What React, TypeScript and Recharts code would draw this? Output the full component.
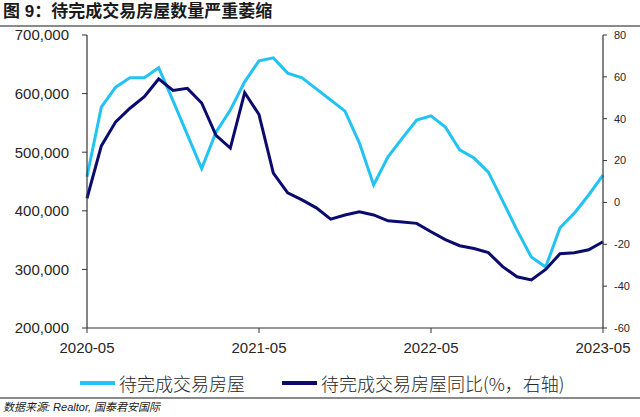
import React from 'react';
import { LineChart, Line, XAxis, YAxis } from 'recharts';

const months = [
  '2020-05', '2020-06', '2020-07', '2020-08', '2020-09', '2020-10', '2020-11', '2020-12',
  '2021-01', '2021-02', '2021-03', '2021-04', '2021-05', '2021-06', '2021-07', '2021-08',
  '2021-09', '2021-10', '2021-11', '2021-12', '2022-01', '2022-02', '2022-03', '2022-04',
  '2022-05', '2022-06', '2022-07', '2022-08', '2022-09', '2022-10', '2022-11', '2022-12',
  '2023-01', '2023-02', '2023-03', '2023-04', '2023-05',
];

// 待完成交易房屋 (left axis)
const pendingListings = [
  458000, 577000, 611000, 627000, 627000, 644000, 588000, 530000,
  472000, 534000, 572000, 620000, 656000, 661000, 635000, 627000,
  608000, 589000, 570000, 516000, 444000, 492000, 524000, 555000,
  562000, 543000, 504000, 490000, 466000, 417000, 367000, 321000,
  304000, 371000, 396000, 427000, 461000,
];

// 同比 % (right axis)
const pendingYoY = [
  2, 27, 38.5, 45, 50.5, 59, 53.5, 54.5,
  47.5, 32, 26, 52.5, 42, 14, 4.6, 1.2,
  -2.6, -8, -6, -4.5, -6, -8.8, -9.3, -10,
  -14, -17.8, -20.7, -22, -24, -30.7, -35.5, -37,
  -32, -24.5, -24, -22.6, -18.8,
];

const leftTicks = [200000, 300000, 400000, 500000, 600000, 700000];
const rightTicks = [-60, -40, -20, 0, 20, 40, 60, 80];
const xTicks = ['2020-05', '2021-05', '2022-05', '2023-05'];

const seriesNames = ['待完成交易房屋', '待完成交易房屋同比(%，右轴)'];
const seriesColors = ['#22C3F2', '#0B0B6E'];
const legendLefts = [80, 282];

const title = '图 9：待完成交易房屋数量严重萎缩';
const source = '数据来源: Realtor, 国泰君安国际';

const data = months.map((m, i) => ({
  month: m,
  listings: pendingListings[i],
  yoy: pendingYoY[i],
}));

const fmt = (v: number) => v.toLocaleString('en-US');

const axisColor = '#333333';
const latin = '"Liberation Sans", Arial, "Noto Sans CJK SC", sans-serif';

export default function App() {
  return (
    <div
      style={{
        position: 'absolute',
        left: 0,
        top: 0,
        width: 640,
        height: 417,
        background: '#ffffff',
        overflow: 'hidden',
        fontFamily: latin,
      }}
    >
      <div
        style={{
          position: 'absolute',
          left: 3,
          top: 1,
          fontSize: 17,
          fontWeight: 700,
          color: '#1a1a1a',
          whiteSpace: 'pre',
          fontFamily: '"Liberation Sans", "Noto Sans CJK SC", sans-serif',
          lineHeight: '22px',
        }}
      >
        {title}
      </div>
      <div style={{ position: 'absolute', left: 0, top: 25, width: 640, height: 1.5, background: '#8a8a8a' }} />

      <div style={{ position: 'absolute', left: 0, top: 0 }}>
        <LineChart
          width={640}
          height={417}
          data={data}
          margin={{ top: 35, right: 0, left: 0, bottom: 59 }}
        >
          <XAxis
            dataKey="month"
            ticks={xTicks}
            interval={0}
            height={30}
            tickSize={5}
            tickMargin={9}
            stroke={axisColor}
            axisLine={{ stroke: axisColor, strokeWidth: 1.2 }}
            tickLine={{ stroke: axisColor }}
            tick={{ fill: '#262626', fontSize: 15, fontFamily: latin }}
          />
          <YAxis
            yAxisId="left"
            width={87}
            domain={[200000, 700000]}
            ticks={leftTicks}
            tickFormatter={fmt}
            tickSize={5}
            tickMargin={13}
            axisLine={{ stroke: axisColor, strokeWidth: 1.2 }}
            tickLine={{ stroke: axisColor }}
            tick={{ fill: '#262626', fontSize: 15, fontFamily: latin }}
            allowDataOverflow
          />
          <YAxis
            yAxisId="right"
            orientation="right"
            width={37}
            domain={[-60, 80]}
            ticks={rightTicks}
            tickSize={4}
            tickMargin={7}
            axisLine={{ stroke: axisColor, strokeWidth: 1.2 }}
            tickLine={{ stroke: axisColor }}
            tick={{ fill: '#262626', fontSize: 11, fontFamily: latin }}
            allowDataOverflow
          />
          <Line
            yAxisId="left"
            dataKey="listings"
            name={seriesNames[0]}
            stroke={seriesColors[0]}
            strokeWidth={3}
            dot={false}
            activeDot={false}
            isAnimationActive={false}
            strokeLinejoin="miter"
          />
          <Line
            yAxisId="right"
            dataKey="yoy"
            name={seriesNames[1]}
            stroke={seriesColors[1]}
            strokeWidth={3}
            dot={false}
            activeDot={false}
            isAnimationActive={false}
            strokeLinejoin="miter"
          />
        </LineChart>
      </div>

      {seriesNames.map((n, i) => (
        <div
          key={n}
          style={{
            position: 'absolute',
            left: legendLefts[i],
            top: 371,
            display: 'flex',
            alignItems: 'center',
            height: 24,
          }}
        >
          <div style={{ width: 35, height: 4, background: seriesColors[i], marginRight: 4 }} />
          <span
            style={{
              fontSize: 18,
              color: '#262626',
              fontFamily: '"Noto Sans CJK SC", sans-serif',
              fontWeight: 300,
              lineHeight: '24px',
              whiteSpace: 'pre',
            }}
          >
            {n}
          </span>
        </div>
      ))}

      <div style={{ position: 'absolute', left: 0, top: 397, width: 640, height: 1.5, background: '#8a8a8a' }} />
      <div
        style={{
          position: 'absolute',
          left: 3,
          top: 400,
          fontSize: 11,
          fontStyle: 'italic',
          color: '#1a1a1a',
          fontFamily: latin,
          whiteSpace: 'pre',
          lineHeight: '15px',
        }}
      >
        {source}
      </div>
    </div>
  );
}
